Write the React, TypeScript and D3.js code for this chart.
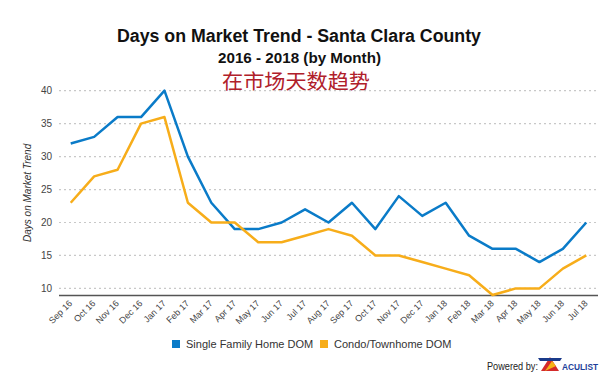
import React from "react";
import * as d3 from "d3";

const months = ["Sep 16","Oct 16","Nov 16","Dec 16","Jan 17","Feb 17","Mar 17","Apr 17","May 17","Jun 17","Jul 17","Aug 17","Sep 17","Oct 17","Nov 17","Dec 17","Jan 18","Feb 18","Mar 18","Apr 18","May 18","Jun 18","Jul 18"];
const singleFamily = [32,33,36,36,40,30,23,19,19,20,22,20,23,19,24,21,23,18,16,16,14,16,20];
const condo = [23,27,28,35,36,23,20,20,17,17,18,19,18,15,15,14,13,12,9,10,10,13,15];
const yTicks = [10,15,20,25,30,35,40];

const W = 600, H = 382;
const left = 59, right = 598, top = 90.7, bottom = 295;

export default function App() {
  const x = d3.scalePoint<string>().domain(months).range([left, right]).padding(0.5);
  const y = d3.scaleLinear().domain([9, 40]).range([bottom, top]);
  const line = d3.line<number>().x((_, i) => x(months[i])!).y(d => y(d));
  const font = "Arial, 'Liberation Sans', sans-serif";
  return (
    <svg width={W} height={H} style={{ position: "absolute", left: 0, top: 0, background: "#fff" }} fontFamily={font}>
      <text x={299} y={42} textAnchor="middle" fontSize={18} fontWeight="bold" fill="#111" textLength={364} lengthAdjust="spacingAndGlyphs">Days on Market Trend - Santa Clara County</text>
      <text x={299.5} y={63} textAnchor="middle" fontSize={14.5} fontWeight="bold" fill="#111" textLength={163} lengthAdjust="spacingAndGlyphs">2016 - 2018 (by Month)</text>
      <text x={296} y={89} textAnchor="middle" fontSize={20.5} fill="#b0202a" fontFamily="'Noto Sans CJK SC', sans-serif" textLength={148} lengthAdjust="spacingAndGlyphs">在市场天数趋势</text>
      {yTicks.map(t => (
        <g key={t}>
          <line x1={left} x2={right} y1={y(t)} y2={y(t)} stroke="#c8c8c8" strokeWidth={1.2} strokeDasharray="2,3" />
          <text x={52} y={y(t) + 3.5} textAnchor="end" fontSize={10} fill="#444">{t}</text>
        </g>
      ))}
      <line x1={left} x2={right} y1={bottom + 0.5} y2={bottom + 0.5} stroke="#555" strokeWidth={1.3} />
      {months.map(m => (
        <text key={m} transform={`translate(${x(m)! + 2},${bottom + 9}) rotate(-45)`} textAnchor="end" fontSize={9} fill="#444">{m}</text>
      ))}
      <text transform={`translate(31,${(top + bottom) / 2}) rotate(-90)`} textAnchor="middle" fontSize={10} fontStyle="italic" fill="#333">Days on Market Trend</text>
      <path d={line(singleFamily)!} fill="none" stroke="#0a7bc8" strokeWidth={2.5} strokeLinejoin="round" />
      <path d={line(condo)!} fill="none" stroke="#f7ad1a" strokeWidth={2.5} strokeLinejoin="round" />
      <rect x={172} y={340} width={8} height={8} fill="#0a7bc8" />
      <text x={186} y={348} fontSize={11} fill="#333">Single Family Home DOM</text>
      <rect x={320} y={340} width={8} height={8} fill="#f7ad1a" />
      <text x={334} y={348} fontSize={11} fill="#333">Condo/Townhome DOM</text>
      <text x={487} y={370} fontSize={10} fill="#222" textLength={51} lengthAdjust="spacingAndGlyphs">Powered by:</text>
      <polygon points="541,371 550,357 559,371" fill="#d42a2a" />
      <polygon points="545,371 552,361 556,366" fill="#f5b418" />
      <polygon points="538,358 562,358 560,361 540,361" fill="#1a3a8a" />
      <text x={562} y={369.5} fontSize={9} fontWeight="bold" fill="#1d3f9a" textLength={36} lengthAdjust="spacingAndGlyphs">ACULIST</text>
    </svg>
  );
}
